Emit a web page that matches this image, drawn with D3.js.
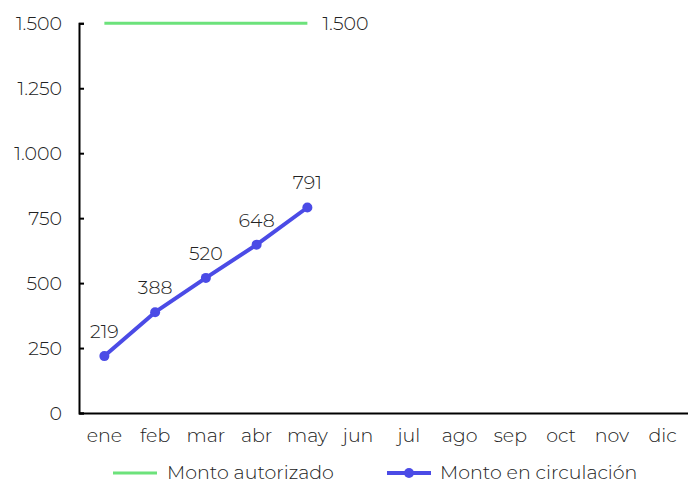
<!DOCTYPE html>
<html><head><meta charset="utf-8">
<script src="https://cdn.jsdelivr.net/npm/d3@7"></script>
<style>
html,body{margin:0;padding:0;background:#fff;}
svg{display:block;font-family:"Montserrat","Open Sans",sans-serif;font-weight:300;}
</style></head>
<body><svg id="c" width="688" height="484"></svg>
<script>
const months = ["ene","feb","mar","abr","may","jun","jul","ago","sep","oct","nov","dic"];
const autorizado = [1500,1500,1500,1500,1500];
const circulacion = [219,388,520,648,791];
const yTicks = [0,250,500,750,1000,1250,1500];
const seriesNames = ["Monto autorizado","Monto en circulación"];
const colors = {aut:"#6ce27b", circ:"#4b4be6"};
const FS = 19;

const svg = d3.select("#c");
const m = {l:79, r:0};
const W = 688;
const x = d3.scaleBand().domain(months).range([m.l, W - m.r]);
const y = d3.scaleLinear().domain([0,1500]).range([413, 23.3]);
const cx = d => x(d) + x.bandwidth()/2;
const fmt = v => d3.format(",")(v).replace(/,/g,".");

// y axis
const ya = svg.append("g").attr("transform",`translate(${m.l},0)`)
  .call(d3.axisRight(y).tickValues(yTicks).tickSize(5).tickFormat(""));
ya.select(".domain").attr("stroke","#000").attr("stroke-width",2);
ya.selectAll(".tick line").attr("stroke","#000").attr("stroke-width",2);
svg.append("g").selectAll("text").data(yTicks).join("text")
  .attr("x",62).attr("y",d=>y(d)).attr("dy","0.35em").attr("text-anchor","end")
  .attr("font-size",FS).attr("fill","#222").text(fmt);

// x axis
const xa = svg.append("g").attr("transform",`translate(0,${y(0)})`)
  .call(d3.axisBottom(x).tickSize(0).tickPadding(16));
xa.attr("font-family",null).attr("font-size",null);
xa.select(".domain").attr("stroke","#000").attr("stroke-width",2);
xa.selectAll("text").attr("font-size",FS).attr("fill","#222");

// autorizado line
const lineA = d3.line().x((d,i)=>cx(months[i])).y(d=>y(d));
svg.append("path").datum(autorizado).attr("d",lineA)
  .attr("fill","none").attr("stroke",colors.aut).attr("stroke-width",3);
svg.append("text").attr("x",cx(months[autorizado.length-1])+15).attr("y",y(autorizado[autorizado.length-1]))
  .attr("dy","0.35em").attr("font-size",FS).attr("fill","#222").text(fmt(autorizado[autorizado.length-1]));

// circulacion line
svg.append("path").datum(circulacion).attr("d",lineA)
  .attr("fill","none").attr("stroke",colors.circ).attr("stroke-width",4).attr("stroke-linejoin","round");
svg.append("g").selectAll("circle").data(circulacion).join("circle")
  .attr("cx",(d,i)=>cx(months[i])).attr("cy",d=>y(d)).attr("r",5).attr("fill",colors.circ);
svg.append("g").selectAll("text").data(circulacion).join("text")
  .attr("x",(d,i)=>cx(months[i])).attr("y",d=>y(d)-18).attr("text-anchor","middle")
  .attr("font-size",FS).attr("fill","#222").text(fmt);

// legend
const LY = 472;
const lg = svg.append("g");
lg.append("line").attr("x1",113).attr("x2",157).attr("y1",LY+1).attr("y2",LY+1)
  .attr("stroke",colors.aut).attr("stroke-width",3);
lg.append("text").attr("x",167).attr("y",LY).attr("dy","0.35em").attr("font-size",FS).attr("fill","#222").text(seriesNames[0]);
lg.append("line").attr("x1",387).attr("x2",431).attr("y1",LY+1).attr("y2",LY+1)
  .attr("stroke",colors.circ).attr("stroke-width",4);
lg.append("circle").attr("cx",409).attr("cy",LY+1).attr("r",5).attr("fill",colors.circ);
lg.append("text").attr("x",440).attr("y",LY).attr("dy","0.35em").attr("font-size",FS).attr("fill","#222").text(seriesNames[1]);
</script></body></html>
